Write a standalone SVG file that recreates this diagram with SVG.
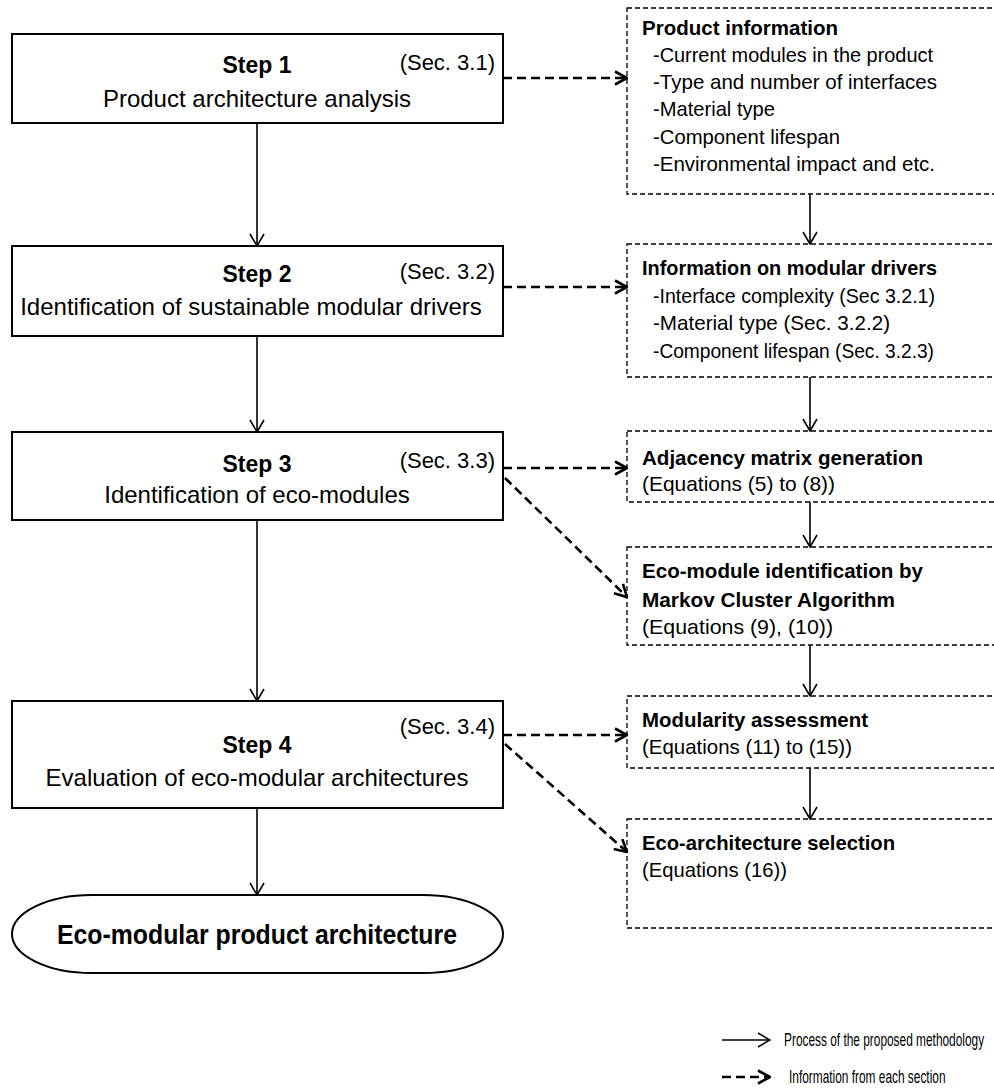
<svg xmlns="http://www.w3.org/2000/svg" width="994" height="1092" viewBox="0 0 994 1092">
  <defs>
    <style>
      text { font-family: "Liberation Sans", Arial, sans-serif; fill: #000; }
      .step { font-size: 23px; font-weight: bold; text-anchor: middle; }
      .desc { font-size: 24px; text-anchor: middle; }
      .sec { font-size: 22px; text-anchor: end; }
      .ttl { font-size: 21px; font-weight: bold; }
      .itm { font-size: 21px; }
      .leg { font-size: 18px; }
      .final { font-size: 27px; font-weight: bold; text-anchor: middle; }
      .box { fill: #fff; stroke: #000; stroke-width: 2; }
      .info { fill: #fff; stroke: #000; stroke-width: 1.3; stroke-dasharray: 5 3; }
      .flow { fill: none; stroke: #000; stroke-width: 1.6; marker-end: url(#head); }
      .feed { fill: none; stroke: #000; stroke-width: 2.6; stroke-dasharray: 9 5; marker-end: url(#head-bold); }
    </style>
    <marker id="head" viewBox="0 0 14 16" refX="13" refY="8" markerWidth="14" markerHeight="16" markerUnits="userSpaceOnUse" orient="auto">
      <path d="M1,1 L13,8 L1,15" fill="none" stroke="#000" stroke-width="1.6"/>
    </marker>
    <marker id="head-bold" viewBox="0 0 14 16" refX="13" refY="8" markerWidth="14" markerHeight="16" markerUnits="userSpaceOnUse" orient="auto">
      <path d="M1,1.5 L13,8 L1,14.5" fill="none" stroke="#000" stroke-width="2.6" stroke-dasharray="none"/>
    </marker>
  </defs>

  <rect width="994" height="1092" fill="#fff"/>

  <!-- process steps -->
  <g id="step1">
    <rect class="box" x="12" y="34" width="491" height="89"/>
    <text class="step" x="257" y="73">Step 1</text>
    <text class="sec" x="495" y="70">(Sec. 3.1)</text>
    <text class="desc" x="257" y="107">Product architecture analysis</text>
  </g>
  <g id="step2">
    <rect class="box" x="12" y="246" width="491" height="90"/>
    <text class="step" x="257" y="282">Step 2</text>
    <text class="sec" x="495" y="279">(Sec. 3.2)</text>
    <text class="desc" x="251" y="315">Identification of sustainable modular drivers</text>
  </g>
  <g id="step3">
    <rect class="box" x="12" y="432" width="491" height="88"/>
    <text class="step" x="257" y="472">Step 3</text>
    <text class="sec" x="495" y="468">(Sec. 3.3)</text>
    <text class="desc" x="257" y="503">Identification of eco-modules</text>
  </g>
  <g id="step4">
    <rect class="box" x="12" y="701" width="491" height="107"/>
    <text class="sec" x="495" y="734">(Sec. 3.4)</text>
    <text class="step" x="257" y="753">Step 4</text>
    <text class="desc" x="257" y="786">Evaluation of eco-modular architectures</text>
  </g>
  <g id="result">
    <rect x="12" y="895" width="491" height="78" rx="80" ry="39" fill="#fff" stroke="#000" stroke-width="2"/>
    <text class="final" x="257" y="944" textLength="400" lengthAdjust="spacingAndGlyphs">Eco-modular product architecture</text>
  </g>

  <!-- information boxes -->
  <g id="product-info">
    <rect class="info" x="627" y="8" width="380" height="186"/>
    <text class="ttl" x="642" y="35" textLength="196" lengthAdjust="spacingAndGlyphs">Product information</text>
    <text class="itm" x="653" y="62" textLength="280" lengthAdjust="spacingAndGlyphs">-Current modules in the product</text>
    <text class="itm" x="653" y="89" textLength="284" lengthAdjust="spacingAndGlyphs">-Type and number of interfaces</text>
    <text class="itm" x="653" y="116" textLength="122" lengthAdjust="spacingAndGlyphs">-Material type</text>
    <text class="itm" x="653" y="144" textLength="187" lengthAdjust="spacingAndGlyphs">-Component lifespan</text>
    <text class="itm" x="653" y="171" textLength="282" lengthAdjust="spacingAndGlyphs">-Environmental impact and etc.</text>
  </g>
  <g id="driver-info">
    <rect class="info" x="627" y="244" width="380" height="133"/>
    <text class="ttl" x="642" y="275" textLength="295" lengthAdjust="spacingAndGlyphs">Information on modular drivers</text>
    <text class="itm" x="653" y="303" textLength="282" lengthAdjust="spacingAndGlyphs">-Interface complexity (Sec 3.2.1)</text>
    <text class="itm" x="653" y="330" textLength="237" lengthAdjust="spacingAndGlyphs">-Material type  (Sec. 3.2.2)</text>
    <text class="itm" x="653" y="358" textLength="281" lengthAdjust="spacingAndGlyphs">-Component lifespan (Sec. 3.2.3)</text>
  </g>
  <g id="adjacency">
    <rect class="info" x="627" y="431" width="380" height="71"/>
    <text class="ttl" x="642" y="465" textLength="281" lengthAdjust="spacingAndGlyphs">Adjacency matrix generation</text>
    <text class="itm" x="642" y="491" textLength="193" lengthAdjust="spacingAndGlyphs">(Equations (5) to (8))</text>
  </g>
  <g id="clustering">
    <rect class="info" x="627" y="547" width="380" height="98"/>
    <text class="ttl" x="642" y="578" textLength="281" lengthAdjust="spacingAndGlyphs">Eco-module identification by</text>
    <text class="ttl" x="642" y="607" textLength="253" lengthAdjust="spacingAndGlyphs">Markov Cluster Algorithm</text>
    <text class="itm" x="642" y="634" textLength="191" lengthAdjust="spacingAndGlyphs">(Equations (9), (10))</text>
  </g>
  <g id="modularity">
    <rect class="info" x="627" y="696" width="380" height="72"/>
    <text class="ttl" x="642" y="727" textLength="226" lengthAdjust="spacingAndGlyphs">Modularity assessment</text>
    <text class="itm" x="642" y="754" textLength="210" lengthAdjust="spacingAndGlyphs">(Equations (11) to (15))</text>
  </g>
  <g id="selection">
    <rect class="info" x="627" y="819" width="380" height="109"/>
    <text class="ttl" x="642" y="850" textLength="253" lengthAdjust="spacingAndGlyphs">Eco-architecture selection</text>
    <text class="itm" x="642" y="877" textLength="145" lengthAdjust="spacingAndGlyphs">(Equations (16))</text>
  </g>

  <!-- connectors -->
  <g id="connectors">
    <path class="flow" d="M257,123 V246"/>
    <path class="flow" d="M257,336 V432"/>
    <path class="flow" d="M257,520 V701"/>
    <path class="flow" d="M257,808 V895"/>
    <path class="flow" d="M810,194 V244"/>
    <path class="flow" d="M810,377 V431"/>
    <path class="flow" d="M810,502 V547"/>
    <path class="flow" d="M810,645 V696"/>
    <path class="flow" d="M810,768 V819"/>
    <path class="feed" d="M503,78 H627"/>
    <path class="feed" d="M503,287 H627"/>
    <path class="feed" d="M503,468 H627"/>
    <path class="feed" d="M505,478 L627,597"/>
    <path class="feed" d="M503,735 H627"/>
    <path class="feed" d="M505,744 L627,852"/>
  </g>

  <!-- legend (condensed lettering) -->
  <g id="legend">
    <path class="flow" d="M722,1040 H770"/>
    <text class="leg" transform="translate(784,1046) scale(0.66,1)">Process of the proposed methodology</text>
    <path class="feed" d="M722,1077 H770"/>
    <text class="leg" transform="translate(789,1083) scale(0.66,1)">Information from each section</text>
  </g>
</svg>
